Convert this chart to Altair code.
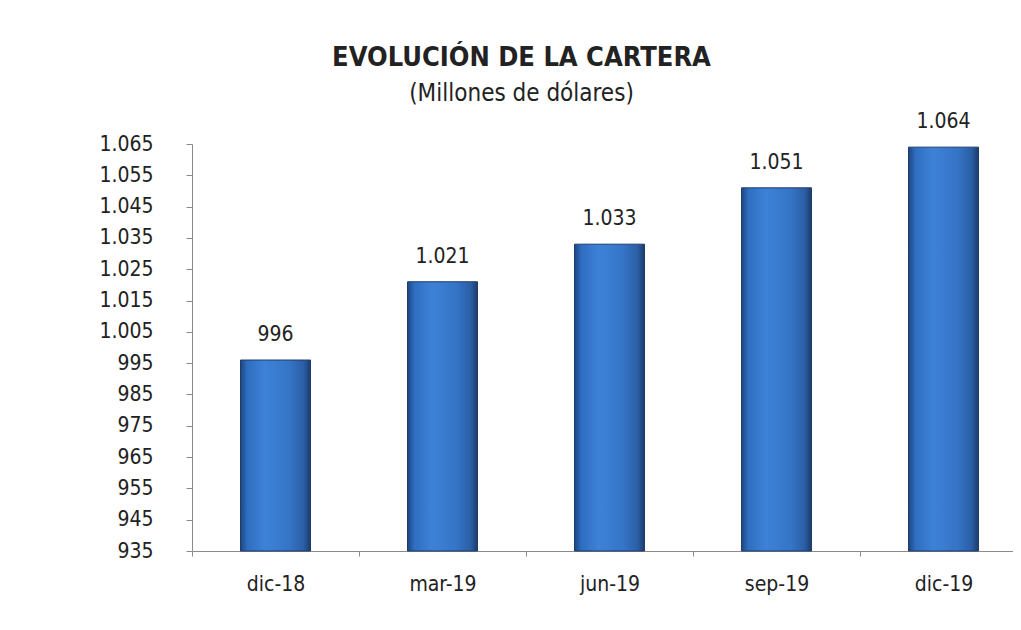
import altair as alt
import pandas as pd

periods = ["dic-18", "mar-19", "jun-19", "sep-19", "dic-19"]
values = [996, 1021, 1033, 1051, 1064]
y_ticks = [935, 945, 955, 965, 975, 985, 995, 1005, 1015, 1025, 1035, 1045, 1055, 1065]
y_min, y_max = 935, 1065

df = pd.DataFrame({"periodo": periods, "valor": values})

FONT = "DejaVu Sans Condensed, Liberation Sans Narrow, Liberation Sans, sans-serif"

grad = alt.Gradient(
    gradient="linear",
    x1=0, x2=1, y1=0, y2=0,
    stops=[
        alt.GradientStop(color="#1c4680", offset=0),
        alt.GradientStop(color="#2f6ec0", offset=0.1),
        alt.GradientStop(color="#3d82d8", offset=0.35),
        alt.GradientStop(color="#3574c6", offset=0.7),
        alt.GradientStop(color="#2b5fa6", offset=0.9),
        alt.GradientStop(color="#1b3c6c", offset=1),
    ],
)

x = alt.X(
    "periodo:N",
    sort=periods,
    title=None,
    scale=alt.Scale(paddingInner=0, paddingOuter=0, range=[0, 835]),
    axis=alt.Axis(
        labelAngle=0, labelFont=FONT, labelFontSize=21, labelColor="#222",
        labelPadding=17, domainColor="#8a8a8a", tickColor="#8a8a8a",
        tickBand="extent", tickSize=5,
    ),
)
y = alt.Y(
    "valor:Q",
    title=None,
    scale=alt.Scale(domain=[y_min, y_max], zero=False, nice=False),
    axis=alt.Axis(
        values=y_ticks, tickCount=30, grid=False, labelOverlap=False,
        labelExpr="replace(format(datum.value, ','), ',', '.')",
        labelFont=FONT, labelFontSize=21, labelColor="#222",
        labelPadding=33, domainColor="#8a8a8a", tickColor="#8a8a8a", tickSize=6,
    ),
)

bars = alt.Chart(df).mark_bar(size=70, color=grad, stroke="#1e3d68", strokeWidth=1).encode(
    x=x, y=y, y2=alt.datum(y_min)
)

labels = alt.Chart(df).mark_text(
    dy=-25, font=FONT, fontSize=21, color="#222"
).encode(
    x=alt.X("periodo:N", sort=periods),
    y=alt.Y("valor:Q"),
    text=alt.Text("label:N"),
).transform_calculate(label="replace(format(datum.valor, ','), ',', '.')")

chart = alt.layer(bars, labels).properties(
    width=821,
    height=407,
    background="white",
    autosize=alt.AutoSizeParams(type="none"),
    padding={"left": 184, "top": 136, "right": 0, "bottom": 60},
    title=alt.TitleParams(
        text="EVOLUCIÓN DE LA CARTERA",
        subtitle="(Millones  de dólares)",
        font=FONT, fontSize=27, fontWeight="bold", color="#222",
        subtitleFont=FONT, subtitleFontSize=24, subtitleColor="#222",
        subtitlePadding=10,
        anchor="middle", dx=-81, offset=4,
    ),
).configure_view(stroke=None)

chart.save("out.html", embed_options={"renderer": "svg", "actions": False})
